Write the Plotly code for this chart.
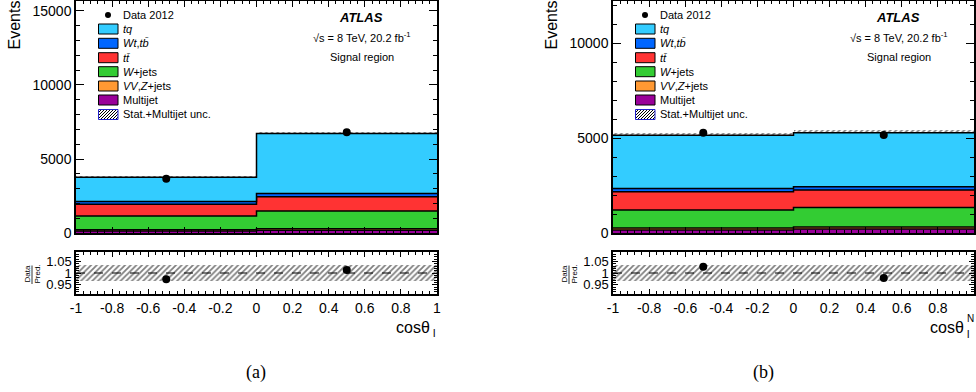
import plotly.graph_objects as go

W, H = 976, 392

# ---------------- data ----------------
bin_centers = [-0.5, 0.5]
bin_widths = [1.0, 1.0]
edges = [-1.0, 0.0, 1.0]

components = ["Multijet", "VV,Z+jets", "W+jets", "ttbar", "Wt,tb", "tq"]
colors = ["#990099", "#FF9933", "#33CC33", "#FF3333", "#0066FF", "#33CCFF"]

# panel (a): cos theta_l
a_multijet = [150, 200]
a_vvz = [90, 110]
a_wjets = [920, 1186]
a_ttbar = [806, 960]
a_wt = [184, 228]
a_tq = [1630, 4036]
a_data = [3680, 6810]
a_unc = [140, 160]

# panel (b): cos theta_l^N
b_multijet = [180, 220]
b_vvz = [100, 110]
b_wjets = [945, 1035]
b_ttbar = [960, 910]
b_wt = [177, 175]
b_tq = [2798, 2840]
b_data = [5300, 5178]
b_unc = [175, 180]

ratio_unc = [0.036, 0.036]

x_tickvals = [-1, -0.8, -0.6, -0.4, -0.2, 0, 0.2, 0.4, 0.6, 0.8, 1]
x_ticktext = ["-1", "-0.8", "-0.6", "-0.4", "-0.2", "0", "0.2", "0.4", "0.6", "0.8", "1"]
ratio_tickvals = [0.95, 1.0, 1.05]
ratio_ticktext = ["0.95", "1", "1.05"]

legend_labels = ["Data 2012", "<i>tq</i>", "<i>Wt</i>,<i>tb̄</i>", "<i>tt̄</i>",
                 "<i>W</i>+jets", "<i>VV</i>,<i>Z</i>+jets", "Multijet",
                 "Stat.+Multijet unc."]

FONT = "Liberation Sans, Arial, Helvetica, sans-serif"


def px(x):
    return x / W


def py(y):
    return 1 - y / H


fig = go.Figure()

HATCH = dict(shape="/", fgcolor="black", bgcolor="rgba(0,0,0,0)",
             size=4, solidity=0.45, fillmode="overlay")

panels = [
    dict(comps=[a_multijet, a_vvz, a_wjets, a_ttbar, a_wt, a_tq], data=a_data, unc=a_unc,
         xm="x", ym="y", xr="x2", yr="y2"),
    dict(comps=[b_multijet, b_vvz, b_wjets, b_ttbar, b_wt, b_tq], data=b_data, unc=b_unc,
         xm="x3", ym="y3", xr="x4", yr="y4"),
]

for p in panels:
    cum = [0.0, 0.0]
    for i, (vals, col) in enumerate(zip(p["comps"], colors)):
        cum = [cum[0] + vals[0], cum[1] + vals[1]]
        fig.add_trace(go.Scatter(
            x=edges, y=[cum[0], cum[1], cum[1]], mode="lines", line_shape="hv",
            line=dict(color="black", width=1.5),
            fill="tozeroy" if i == 0 else "tonexty", fillcolor=col,
            xaxis=p["xm"], yaxis=p["ym"], showlegend=False, hoverinfo="skip"))
    p["total"] = cum
    # uncertainty hatch (main)
    fig.add_trace(go.Bar(
        x=bin_centers, width=bin_widths,
        base=[t - u for t, u in zip(cum, p["unc"])],
        y=[2 * u for u in p["unc"]],
        marker=dict(color="rgba(0,0,0,0)", line=dict(width=0), pattern=HATCH),
        xaxis=p["xm"], yaxis=p["ym"], showlegend=False, hoverinfo="skip"))
    # data
    fig.add_trace(go.Scatter(
        x=bin_centers, y=p["data"], mode="markers",
        marker=dict(color="black", size=8),
        xaxis=p["xm"], yaxis=p["ym"], showlegend=False))
    # ratio band
    fig.add_trace(go.Bar(
        x=bin_centers, width=bin_widths,
        base=[1 - u for u in ratio_unc], y=[2 * u for u in ratio_unc],
        marker=dict(color="rgba(0,0,0,0)", line=dict(width=0), pattern=HATCH),
        xaxis=p["xr"], yaxis=p["yr"], showlegend=False, hoverinfo="skip"))
    fig.add_trace(go.Scatter(
        x=[-1, 1], y=[1, 1], mode="lines", line=dict(color="black", width=1, dash="dash"),
        xaxis=p["xr"], yaxis=p["yr"], showlegend=False, hoverinfo="skip"))
    fig.add_trace(go.Scatter(
        x=bin_centers, y=[d / t for d, t in zip(p["data"], cum)], mode="markers",
        marker=dict(color="black", size=8),
        xaxis=p["xr"], yaxis=p["yr"], showlegend=False))

# -------- axes --------
left_x = [px(76), px(437)]
right_x = [px(613), px(974)]
main_y = [py(233.3), py(0.5)]
ratio_y = [py(294), py(252)]

common = dict(showline=True, linecolor="black", linewidth=1.5, mirror="allticks",
              ticks="inside", tickcolor="black", showgrid=False, zeroline=False,
              automargin=False,
              tickfont=dict(family=FONT, size=14, color="black"))

xmain = dict(common, range=[-1, 1], tickvals=x_tickvals, ticktext=x_ticktext,
             showticklabels=False, ticklen=7,
             minor=dict(dtick=0.04, ticks="inside", ticklen=4, tickcolor="black", showgrid=False))
xratio = dict(common, range=[-1, 1], tickvals=x_tickvals, ticktext=x_ticktext,
              showticklabels=True, ticklen=5,
              minor=dict(dtick=0.04, ticks="inside", ticklen=3, tickcolor="black", showgrid=False))
yratio = dict(common, range=[0.91, 1.09], tickvals=ratio_tickvals, ticktext=ratio_ticktext,
              ticklen=5, tickfont=dict(family=FONT, size=13, color="black"),
              minor=dict(dtick=0.01, tick0=0.9, ticks="inside", ticklen=3, tickcolor="black",
                         showgrid=False))

fig.update_layout(
    xaxis=dict(xmain, domain=left_x, anchor="y"),
    yaxis=dict(common, domain=main_y, anchor="x", range=[0, 15690], dtick=5000, ticklen=8,
               tickformat="d",
               minor=dict(dtick=1000, ticks="inside", ticklen=4, tickcolor="black",
                          showgrid=False)),
    xaxis2=dict(xratio, domain=left_x, anchor="y2"),
    yaxis2=dict(yratio, domain=ratio_y, anchor="x2"),
    xaxis3=dict(xmain, domain=right_x, anchor="y3"),
    yaxis3=dict(common, domain=main_y, anchor="x3", range=[0, 12260], dtick=5000, ticklen=8,
                tickformat="d",
                minor=dict(dtick=1000, ticks="inside", ticklen=4, tickcolor="black",
                           showgrid=False)),
    xaxis4=dict(xratio, domain=right_x, anchor="y4"),
    yaxis4=dict(yratio, domain=ratio_y, anchor="x4"),
    barmode="overlay", bargap=0,
    width=W, height=H, autosize=False,
    margin=dict(l=0, r=0, t=0, b=0, autoexpand=False),
    paper_bgcolor="white", plot_bgcolor="white",
    showlegend=False,
    font=dict(family=FONT, color="black"),
)

annotations = []
shapes = []


def text(x, y, s, size, xanchor="center", yanchor="middle", angle=0, family=FONT):
    annotations.append(dict(x=px(x), y=py(y), xref="paper", yref="paper", text=s,
                            showarrow=False, xanchor=xanchor, yanchor=yanchor,
                            textangle=angle, borderpad=0,
                            font=dict(family=family, size=size, color="black")))


for off, cap in [(0, "(a)"), (537, "(b)")]:
    # y titles
    text(14 + off, 0, "Events", 16, yanchor="top", angle=-90)
    # ATLAS labels
    text(361 + off, 17, "<b><i>ATLAS</i></b>", 13)
    text(362 + off, 37, "√s = 8 TeV, 20.2 fb<sup>-1</sup>", 11)
    text(362 + off, 57, "Signal region", 11)
    # caption
    text(256 + (507 if off else 0), 372, cap, 18, family="Liberation Serif, DejaVu Serif, serif")
    # legend
    rows = [15, 29, 43.3, 57.7, 71.7, 86, 100, 114.5]
    for k, (lab, ry) in enumerate(zip(legend_labels, rows)):
        text(122 + off, ry, lab, 11, xanchor="left")
        if k == 0:
            shapes.append(dict(type="circle", xref="paper", yref="paper",
                               x0=px(105 + off), x1=px(111 + off), y0=py(ry + 3), y1=py(ry - 3),
                               fillcolor="black", line=dict(width=0)))
        elif k < 7:
            col = colors[6 - k]
            shapes.append(dict(type="rect", xref="paper", yref="paper",
                               x0=px(98.5 + off), x1=px(118 + off), y0=py(ry + 5), y1=py(ry - 5),
                               fillcolor=col, line=dict(color="black", width=1)))
        else:
            x0, x1, y0, y1 = 98.5 + off, 118 + off, ry - 5, ry + 5
            s = -10
            while s < 20:
                ax, ay = x0 + s, y1
                bx, by = x0 + s + 10, y0
                if ax < x0:
                    ay = y1 - (x0 - ax); ax = x0
                if bx > x1:
                    by = y0 + (bx - x1); bx = x1
                if ax < bx:
                    shapes.append(dict(type="line", xref="paper", yref="paper",
                                       x0=px(ax), y0=py(ay), x1=px(bx), y1=py(by),
                                       line=dict(color="black", width=1)))
                s += 3
            shapes.append(dict(type="rect", xref="paper", yref="paper",
                               x0=px(x0), x1=px(x1), y0=py(y1), y1=py(y0),
                               fillcolor="rgba(0,0,0,0)", line=dict(color="#2222CC", width=1)))

# ratio y titles (Data / Pred.)
for xo in [0, 537]:
    text(27 + xo, 274.5, "Data", 8, angle=-90)
    text(37 + xo, 274.5, "Pred.", 8, angle=-90)
    shapes.append(dict(type="line", xref="paper", yref="paper",
                       x0=px(32 + xo), x1=px(32 + xo), y0=py(265.5), y1=py(284),
                       line=dict(color="black", width=0.8)))

# x titles
text(431, 327, "cosθ", 16, xanchor="right")
text(431.5, 333, "l", 11, xanchor="left")
text(965, 327, "cosθ", 16, xanchor="right")
text(965.5, 334, "l", 11, xanchor="left")
text(965.5, 318, "N", 10, xanchor="left")

fig.update_layout(annotations=annotations, shapes=shapes)
fig.write_html("out.html", config={"displayModeBar": False},
               post_script="document.body.style.margin='0';document.body.style.overflow='hidden';")
